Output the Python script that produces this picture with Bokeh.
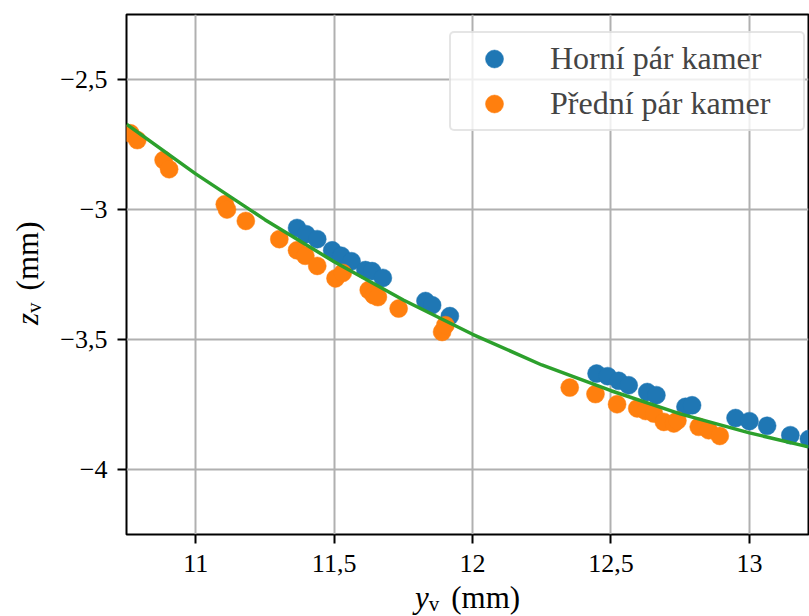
from bokeh.plotting import figure
from bokeh.models import Range1d, FixedTicker, Legend, LegendItem, Div
from bokeh.layouts import row, column
from bokeh.embed import file_html
from bokeh.resources import INLINE

# ---- data ----
horni_y = [11.366, 11.399, 11.439, 11.493, 11.526, 11.563, 11.613, 11.637, 11.676,
           11.830, 11.854, 11.918, 12.448, 12.488, 12.528, 12.564, 12.631, 12.664,
           12.769, 12.793, 12.950, 13.000, 13.064, 13.148, 13.215]
horni_z = [-3.071, -3.095, -3.114, -3.157, -3.178, -3.199, -3.233, -3.237, -3.263,
           -3.352, -3.368, -3.410, -3.631, -3.641, -3.659, -3.676, -3.702, -3.714,
           -3.759, -3.753, -3.802, -3.814, -3.832, -3.868, -3.883]

predni_y = [10.764, 10.789, 10.884, 10.904, 11.105, 11.113, 11.181, 11.302, 11.366,
            11.396, 11.439, 11.505, 11.531, 11.625, 11.643, 11.658, 11.733, 11.890,
            11.902, 12.351, 12.444, 12.522, 12.595, 12.625, 12.655, 12.691, 12.727,
            12.740, 12.817, 12.853, 12.893]
predni_z = [-2.707, -2.733, -2.810, -2.845, -2.980, -3.000, -3.044, -3.114, -3.157,
            -3.178, -3.217, -3.265, -3.244, -3.310, -3.330, -3.337, -3.381, -3.471,
            -3.445, -3.685, -3.710, -3.749, -3.765, -3.775, -3.785, -3.817, -3.823,
            -3.812, -3.836, -3.849, -3.871]

fit_y = [10.75, 11.0, 11.25, 11.5, 11.75, 12.0, 12.25, 12.5, 12.75, 13.0, 13.2135]
fit_z = [-2.672, -2.863, -3.039, -3.201, -3.348, -3.480, -3.598, -3.697, -3.786, -3.859, -3.913]

x_ticks = [11, 11.5, 12, 12.5, 13]
x_tick_labels = ["11", "11,5", "12", "12,5", "13"]
z_ticks = [-2.5, -3, -3.5, -4]
z_tick_labels = ["\u22122,5", "\u22123", "\u22123,5", "\u22124"]

series_labels = ["Horní pár kamer", "Přední pár kamer"]
x_title = ("y", "v", "(mm)")
z_title = ("z", "v", "(mm)")

FONT = "Liberation Serif"
BLUE = "#1f77b4"
ORANGE = "#ff7f0e"
GREEN = "#2ca02c"

p = figure(width=759, height=588, output_backend="svg", toolbar_location=None,
           x_range=Range1d(10.75, 13.2135), y_range=Range1d(-4.25, -2.25),
           min_border_left=76, min_border_right=1, min_border_top=14, min_border_bottom=54,
           margin=0)
p.background_fill_color = "white"
p.border_fill_color = "white"
p.outline_line_color = "black"
p.outline_line_width = 2

for ax, ticks, labels in ((p.xaxis[0], x_ticks, x_tick_labels), (p.yaxis[0], z_ticks, z_tick_labels)):
    ax.ticker = FixedTicker(ticks=ticks, minor_ticks=[])
    ax.major_label_overrides = {t: l for t, l in zip(ticks, labels)}
    ax.major_label_text_font = FONT
    ax.major_label_text_font_size = "26px"
    ax.major_label_text_color = "black"
    ax.axis_line_color = None
    ax.major_tick_in = 0
    ax.major_tick_out = 9
    ax.major_tick_line_width = 2
    ax.major_tick_line_color = "black"
    ax.minor_tick_line_color = None
p.xaxis.major_label_standoff = 11
p.yaxis.major_label_standoff = 10

p.grid.grid_line_color = "#b0b0b0"
p.grid.grid_line_width = 2

r1 = p.scatter(horni_y, horni_z, size=18, fill_color=BLUE, line_color=BLUE, line_width=0.5)
r2 = p.scatter(predni_y, predni_z, size=18, fill_color=ORANGE, line_color=ORANGE, line_width=0.5)
p.line(fit_y, fit_z, line_color=GREEN, line_width=3.5)

legend = Legend(items=[LegendItem(label=series_labels[0], renderers=[r1]),
                       LegendItem(label=series_labels[1], renderers=[r2])],
                location=(323, 403), margin=0, padding=3, spacing=0,
                glyph_width=80, glyph_height=45, label_height=45, label_width=250,
                label_standoff=16,
                label_text_font=FONT, label_text_font_size="32px",
                border_line_color="#cccccc", border_line_width=2,
                background_fill_color="white", background_fill_alpha=0.8)
if "border_radius" in Legend.properties():
    legend.border_radius = 5
p.add_layout(legend)

font_css = "font-family:'Liberation Serif';font-size:31px;color:black;white-space:nowrap;"

xlab_html = (
    '<div style="padding-left:365px;' + font_css + 'line-height:19px;">'
    '<span style="font-style:italic">' + x_title[0] + '</span>'
    '<span style="font-size:21px;position:relative;top:3px">' + x_title[1] + '</span>'
    '<span style="margin-left:12px">' + x_title[2] + '</span></div>'
)
xlab = Div(text=xlab_html, width=759, height=28, margin=0)

zlab_html = (
    '<div style="padding-top:325px;padding-left:12px;">'
    '<div style="width:max-content;transform:rotate(-90deg);transform-origin:0 0;'
    + font_css + 'line-height:31px;">'
    '<span style="font-style:italic">' + z_title[0] + '</span>'
    '<span style="font-size:21px;position:relative;top:3px">' + z_title[1] + '</span>'
    '<span style="margin-left:12px">' + z_title[2] + '</span></div></div>'
)
zlab = Div(text=zlab_html, width=50, height=616, margin=0)

layout = row(zlab, column(p, xlab, spacing=0, margin=0), spacing=0, margin=0)

open("out.html", "w").write(file_html(layout, INLINE))
